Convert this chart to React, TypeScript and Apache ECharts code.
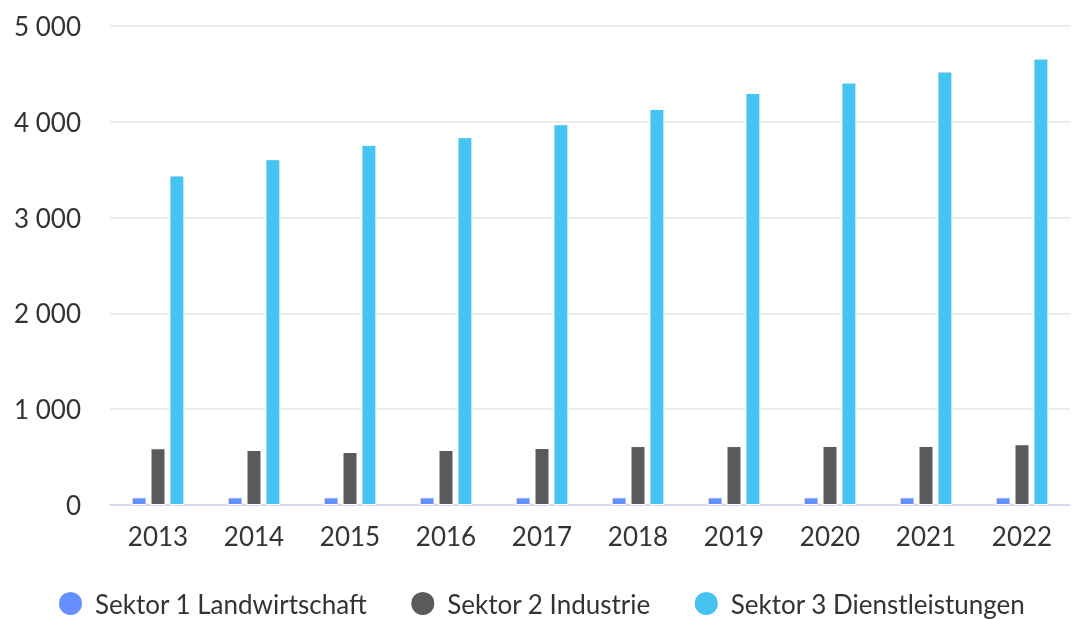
import React, { useEffect, useRef } from "react";
import * as echarts from "echarts";

const years = ["2013", "2014", "2015", "2016", "2017", "2018", "2019", "2020", "2021", "2022"];
const seriesNames = ["Sektor 1 Landwirtschaft", "Sektor 2 Industrie", "Sektor 3 Dienstleistungen"];
const sektor1 = [80, 80, 80, 80, 80, 80, 80, 80, 80, 80];
const sektor2 = [592, 574, 553, 574, 595, 615, 615, 616, 616, 634];
const sektor3 = [3440, 3610, 3760, 3840, 3975, 4135, 4300, 4410, 4525, 4660];
const colors = ["#6690ff", "#5a5a5a", "#47c3f0"];

const fmt = (v: number) => String(v).replace(/\B(?=(\d{3})+(?!\d))/g, " ");

export default function App() {
  const ref = useRef<HTMLDivElement>(null);
  useEffect(() => {
    if (!ref.current) return;
    const chart = echarts.init(ref.current, undefined, { renderer: "svg" });
    const font = "Lato, 'Noto Sans', sans-serif";
    const mk = (name: string, data: number[], color: string) => ({
      name,
      type: "bar",
      data,
      barWidth: 15,
      barGap: "26%",
      itemStyle: { color, borderColor: "#ffffff", borderWidth: 1 },
    });
    chart.setOption({
      animation: false,
      color: colors,
      textStyle: { fontFamily: font },
      grid: { left: 110, right: 2, top: 26, bottom: 114, containLabel: false },
      legend: {
        top: 590,
        left: 57,
        padding: 0,
        icon: "circle",
        itemWidth: 25,
        itemHeight: 25,
        itemGap: 42,
        textStyle: { fontSize: 26, lineHeight: 25, color: "#333333", fontFamily: font, padding: [0, 0, 0, 7] },
        data: seriesNames,
      },
      xAxis: {
        type: "category",
        data: years,
        axisLine: { lineStyle: { color: "#ccd6eb", width: 1.5 } },
        axisTick: { show: false },
        axisLabel: { fontSize: 26, color: "#333333", margin: 18, fontFamily: font },
      },
      yAxis: {
        type: "value",
        min: 0,
        max: 5000,
        interval: 1000,
        axisLine: { show: false },
        axisTick: { show: false },
        splitLine: { lineStyle: { color: "#e6e6e6", width: 1.5 } },
        axisLabel: { fontSize: 26, color: "#333333", margin: 29, fontFamily: font, formatter: (v: number) => fmt(v) },
      },
      series: [
        mk(seriesNames[0], sektor1, colors[0]),
        mk(seriesNames[1], sektor2, colors[1]),
        mk(seriesNames[2], sektor3, colors[2]),
      ],
    });
    return () => chart.dispose();
  }, []);
  return <div ref={ref} style={{ position: "fixed", left: 0, top: 0, width: 1072, height: 619 }} />;
}
